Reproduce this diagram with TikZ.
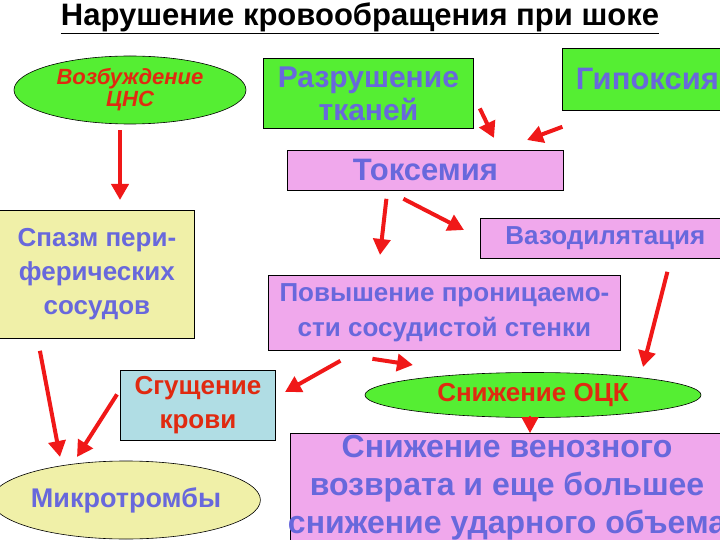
\documentclass[tikz,border=0pt]{standalone}
\usepackage{fontspec}
\setmainfont{Liberation Sans}
\usetikzlibrary{arrows.meta,shapes.geometric}
\definecolor{gr}{HTML}{55EE33}
\definecolor{pk}{HTML}{F0A8EC}
\definecolor{yl}{HTML}{F0F0A8}
\definecolor{lb}{HTML}{B0DDE4}
\definecolor{bt}{HTML}{6868DC}
\definecolor{rt}{HTML}{E02A10}
\definecolor{ar}{HTML}{F01818}
\tikzset{
 bx/.style={draw=black,line width=0.8pt,anchor=north west,inner sep=0pt,align=center},
 el/.style={draw=black,line width=0.6pt,ellipse,inner sep=0pt,align=center},
 ra/.style={draw=ar,line width=4pt,-{Triangle[length=16pt,width=17pt]}},
}
\begin{document}
\begin{tikzpicture}[x=1pt,y=-1pt]
\useasboundingbox (0,0) rectangle (720,540);
\clip (0,0) rectangle (720,540);
\node (t) at (360,18) {\fontsize{31}{34}\selectfont\bfseries\underline{Нарушение кровообращения при шоке}};
\node[el,fill=gr,minimum width=232,minimum height=68,text=rt,font=\fontsize{22}{22}\selectfont\bfseries\itshape] (cns) at (130,90) {Возбуждение\\ЦНС};
\node[bx,fill=gr,minimum width=210,minimum height=70,text=bt,font=\fontsize{30}{33}\selectfont\bfseries] (raz) at (263,58) {Разрушение\\тканей};
\node[bx,fill=gr,minimum width=170,minimum height=62,text=bt,font=\fontsize{31}{30}\selectfont\bfseries] (gip) at (562,48) {Гипоксия};
\node[bx,fill=pk,minimum width=276,minimum height=40,text=bt,font=\fontsize{31}{30}\selectfont\bfseries] (tox) at (287,150) {Токсемия};
\node[bx,fill=yl,minimum width=195,minimum height=128,text=bt,font=\fontsize{26}{34}\selectfont\bfseries] (sp) at (-1,210) {Спазм пери-\\ферических\\сосудов};
\node[bx,fill=pk,minimum width=250,minimum height=40,text=bt,font=\fontsize{26}{26}\selectfont\bfseries] (vaz) at (480,218) {Вазодилятация};
\node[bx,fill=pk,minimum width=352,minimum height=75,text=bt,font=\fontsize{26}{35}\selectfont\bfseries] (pov) at (268,275) {Повышение проницаемо-\\сти сосудистой стенки};
\node[bx,fill=lb,minimum width=155,minimum height=70,text=rt,font=\fontsize{26}{34}\selectfont\bfseries] (sg) at (120,370) {Сгущение\\крови};
\node[el,fill=gr,minimum width=336,minimum height=45,text=rt,font=\fontsize{26}{26}\selectfont\bfseries] (ock) at (533,395) {Снижение ОЦК};
\node[el,fill=yl,minimum width=252,minimum height=78,text=bt,font=\fontsize{27}{26}\selectfont\bfseries] (mt) at (126,500) {Микротромбы};
\node[bx,fill=pk,minimum width=440,minimum height=120,anchor=north] (ven) at (510,433) {};
\node[text=bt,font=\fontsize{32}{38}\selectfont\bfseries,align=center,anchor=north,inner sep=0pt] (vt) at (507,435) {Снижение венозного\\возврата и еще большее\\снижение ударного объема};
\draw[ra] (cns.south -| 120,0) ++(0,6) coordinate (c1) -- (120,200) coordinate (c2);
\draw[ra] (raz.east) ++(6,15) coordinate (r1) -- (494,138) coordinate (r2);
\draw[ra] (gip.south) ++(-85,16) coordinate (g1) -- (527,140) coordinate (g2);
\draw[ra] (tox.south) ++(-39,8) coordinate (x1) -- (380,255) coordinate (x2);
\draw[ra] (tox.south) ++(-22,8) coordinate (x3) -- (464,230) coordinate (x4);
\draw[ra] (vaz.south) ++(62,13) coordinate (v1) -- (643,367) coordinate (v2);
\draw[ra] (pov.south) ++(-104,10) coordinate (p1) -- (285,392) coordinate (p2);
\draw[ra] (pov.south) ++(-72,8) coordinate (p3) -- (413,365) coordinate (p4);
\draw[ra] (sp.south) ++(-57,12) coordinate (s1) -- (60,457) coordinate (s2);
\draw[ra] (sg.west) ++(-3,-11) coordinate (q1) -- (77,457) coordinate (q2);
\draw[ra,line width=2pt] (ock.south) ++(-3,-2) coordinate (o1) -- (ven.north -| 530,0);
\end{tikzpicture}
\end{document}
